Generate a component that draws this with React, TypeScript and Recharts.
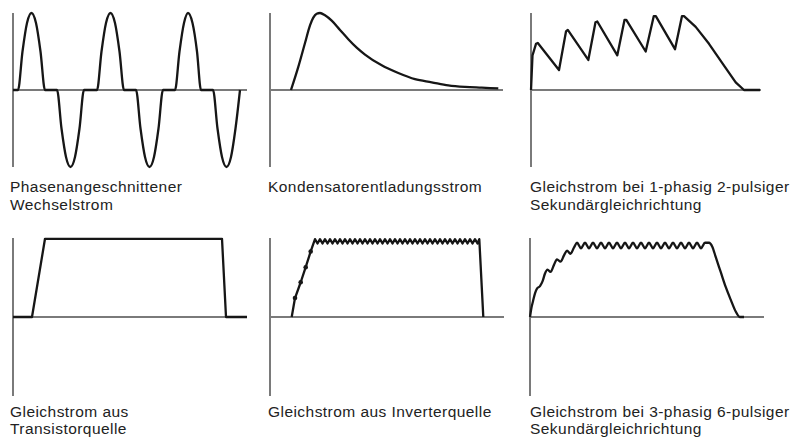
import { LineChart, Line, XAxis, YAxis, ReferenceLine } from "recharts"

type Pt = [number, number]

// x = time (px-like units from the vertical axis), y = current (-1..1)
const acPoints: Pt[] = [
  [0, 0], [5, 0], [9.5, 0.5], [14, 0.87], [18.5, 1], [23, 0.87], [27.5, 0.5], [32, 0],
  [44, 0], [48.5, -0.5], [53, -0.87], [57.5, -1], [62, -0.87], [66.5, -0.5], [71, 0],
  [84, 0], [88.5, 0.5], [93, 0.87], [97.5, 1], [102, 0.87], [106.5, 0.5], [111, 0],
  [123, 0], [127.5, -0.5], [132, -0.87], [136.5, -1], [141, -0.87], [145.5, -0.5], [150, 0],
  [162, 0], [166.5, 0.5], [171, 0.87], [175, 1], [179.5, 0.87], [184, 0.5], [188, 0],
  [200, 0], [204.5, -0.5], [209, -0.87], [213.5, -1], [218, -0.87], [222.5, -0.5], [227, 0],
]

const capacitorPoints: Pt[] = [
  [21, 0], [28.3, 0.3], [35, 0.61], [40, 0.84], [43.3, 0.94], [46.7, 0.99], [50, 1],
  [55, 0.97], [61.7, 0.9], [70, 0.78], [78.3, 0.66], [86.7, 0.55], [95, 0.46],
  [111.7, 0.32], [128.3, 0.22], [145, 0.14], [161.7, 0.1], [178.3, 0.06], [195, 0.04],
  [211.7, 0.03], [228.3, 0.02],
]

const singlePhasePoints: Pt[] = [
  [0, 0], [1.5, 0.45], [5, 0.6], [6.8, 0.61], [28, 0.26], [35, 0.76], [36.8, 0.78],
  [57.3, 0.39], [64.5, 0.88], [66.3, 0.89], [86.3, 0.45], [93.5, 0.91], [95.3, 0.91],
  [114.7, 0.5], [122.8, 0.96], [124.8, 0.96], [144, 0.53], [151, 0.96], [153, 0.96],
  [164.7, 0.82], [178, 0.6], [191.3, 0.35], [204.7, 0.1], [213, 0], [229, 0],
]

const transistorPoints: Pt[] = [
  [0, 0], [19, 0], [32, 0.99], [209, 0.99], [213, 0], [234, 0],
]

const inverterPoints: Pt[] = [
  [21.7, 0], [25, 0.24], [30.7, 0.44], [35.7, 0.63], [40.7, 0.83], [45, 0.985],
  [47.5, 0.93], [50, 0.985], [52.5, 0.93], [55, 0.985], [57.5, 0.93], [60, 0.985],
  [62.5, 0.93], [65, 0.985], [67.5, 0.93], [70, 0.985], [72.5, 0.93], [75, 0.985],
  [77.5, 0.93], [80, 0.985], [82.5, 0.93], [85, 0.985], [87.5, 0.93], [90, 0.985],
  [92.5, 0.93], [95, 0.985], [97.5, 0.93], [100, 0.985], [102.5, 0.93], [105, 0.985],
  [107.5, 0.93], [110, 0.985], [112.5, 0.93], [115, 0.985], [117.5, 0.93], [120, 0.985],
  [122.5, 0.93], [125, 0.985], [127.5, 0.93], [130, 0.985], [132.5, 0.93], [135, 0.985],
  [137.5, 0.93], [140, 0.985], [142.5, 0.93], [145, 0.985], [147.5, 0.93], [150, 0.985],
  [152.5, 0.93], [155, 0.985], [157.5, 0.93], [160, 0.985], [162.5, 0.93], [165, 0.985],
  [167.5, 0.93], [170, 0.985], [172.5, 0.93], [175, 0.985], [177.5, 0.93], [180, 0.985],
  [182.5, 0.93], [185, 0.985], [187.5, 0.93], [190, 0.985], [192.5, 0.93], [195, 0.985],
  [197.5, 0.93], [200, 0.985], [202.5, 0.93], [205, 0.985], [207.5, 0.93], [209.3, 0.985],
  [213.3, 0],
]

const inverterSteps: Pt[] = [
  [25, 0.24], [30.7, 0.44], [35.7, 0.63], [40.7, 0.83],
]

const threePhasePoints: Pt[] = [
  [0, 0], [1.5, 0.12], [3, 0.2], [5, 0.3], [7, 0.36], [10, 0.39], [12.5, 0.45],
  [15, 0.55], [17.5, 0.6], [20.5, 0.57], [24, 0.66], [27, 0.73], [30.5, 0.7],
  [34, 0.78], [37, 0.84], [40.5, 0.8], [44, 0.88], [47, 0.94],
  [51, 0.87], [55, 0.94], [59, 0.87], [63, 0.94], [67, 0.87], [71, 0.94],
  [75, 0.87], [79, 0.94], [83, 0.87], [87, 0.94], [91, 0.87], [95, 0.94],
  [99, 0.87], [103, 0.94], [107, 0.87], [111, 0.94], [115, 0.87], [119, 0.94],
  [123, 0.87], [127, 0.94], [131, 0.87], [135, 0.94], [139, 0.87], [143, 0.94],
  [147, 0.87], [151, 0.94], [155, 0.87], [159, 0.94], [163, 0.87], [167, 0.94],
  [171, 0.87], [175, 0.94], [179, 0.94], [182.3, 0.89], [185.7, 0.76], [190.7, 0.57],
  [195.7, 0.38], [200.7, 0.22], [205.7, 0.07], [209.7, 0], [214, 0],
]

const captions: string[][] = [
  ["Phasenangeschnittener", "Wechselstrom"],
  ["Kondensatorentladungsstrom"],
  ["Gleichstrom bei 1-phasig 2-pulsiger", "Sekundärgleichrichtung"],
  ["Gleichstrom aus", "Transistorquelle"],
  ["Gleichstrom aus Inverterquelle"],
  ["Gleichstrom bei 3-phasig 6-pulsiger", "Sekundärgleichrichtung"],
]

const INK = "#161616"
const AXIS = "#7a7a7a"
const PAD = 4

const toRows = (pts: Pt[]) => pts.map(([x, y]) => ({ x, y }))

interface PanelProps {
  left: number
  top: number
  width: number
  height: number
  points: Pt[]
  curve: "monotone" | "linear"
  dots?: Pt[]
}

function Panel({ left, top, width, height, points, curve, dots }: PanelProps) {
  return (
    <div style={{ position: "absolute", left: left - PAD, top: top - PAD }}>
      <LineChart
        width={width + PAD * 2}
        height={height + PAD * 2}
        margin={{ top: PAD, right: PAD, bottom: PAD, left: PAD }}
      >
        <XAxis type="number" dataKey="x" domain={[0, width]} hide />
        <YAxis type="number" domain={[-1, 1]} hide />
        <ReferenceLine x={0} stroke={AXIS} strokeWidth={2} />
        <ReferenceLine y={0} stroke={AXIS} strokeWidth={2} />
        <Line
          data={toRows(points)}
          dataKey="y"
          type={curve}
          stroke={INK}
          strokeWidth={2.3}
          strokeLinejoin="round"
          dot={false}
          isAnimationActive={false}
        />
        {dots && (
          <Line
            data={toRows(dots)}
            dataKey="y"
            stroke="none"
            dot={{ r: 2.3, fill: INK, stroke: "none" }}
            isAnimationActive={false}
          />
        )}
      </LineChart>
    </div>
  )
}

function Caption({ left, top, lines }: { left: number; top: number; lines: string[] }) {
  return (
    <div
      style={{
        position: "absolute",
        left,
        top,
        fontFamily: "'Liberation Sans', Arial, sans-serif",
        fontSize: 15.5,
        lineHeight: "17.5px",
        letterSpacing: 0.45,
        color: "#222",
        whiteSpace: "nowrap",
      }}
    >
      {lines.map((l, i) => (
        <div key={i}>{l}</div>
      ))}
    </div>
  )
}

export default function App() {
  return (
    <div
      style={{
        position: "absolute",
        left: 0,
        top: 0,
        width: 794,
        height: 437,
        background: "#fff",
        overflow: "hidden",
      }}
    >
      <Panel left={13} top={13} width={234} height={154} points={acPoints} curve="monotone" />
      <Panel left={270} top={13} width={233} height={154} points={capacitorPoints} curve="monotone" />
      <Panel left={531} top={13} width={230} height={154} points={singlePhasePoints} curve="linear" />
      <Panel left={13} top={238} width={234} height={158} points={transistorPoints} curve="linear" />
      <Panel left={270} top={238} width={234} height={158} points={inverterPoints} curve="linear" dots={inverterSteps} />
      <Panel left={530} top={238} width={234} height={158} points={threePhasePoints} curve="monotone" />

      <Caption left={10} top={178.4} lines={captions[0]} />
      <Caption left={268} top={178.4} lines={captions[1]} />
      <Caption left={530} top={178.4} lines={captions[2]} />
      <Caption left={10} top={402.9} lines={captions[3]} />
      <Caption left={268} top={402.9} lines={captions[4]} />
      <Caption left={530} top={402.9} lines={captions[5]} />
    </div>
  )
}
